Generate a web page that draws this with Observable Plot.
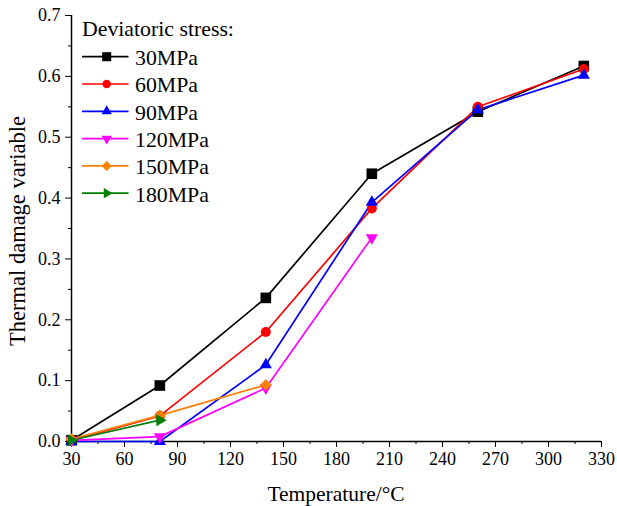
<!DOCTYPE html>
<html>
<head>
<meta charset="utf-8">
<script src="https://cdn.jsdelivr.net/npm/d3@7"></script>
<script src="https://cdn.jsdelivr.net/npm/@observablehq/plot@0.6"></script>
<style>
  html, body { margin: 0; padding: 0; background: #fff; }
  #chart { width: 617px; height: 506px; }
</style>
</head>
<body>
<div id="chart"></div>
<script>
// ---- data ----
const temperatures = [30, 80, 140, 200, 260, 320];
const seriesNames = ["30MPa", "60MPa", "90MPa", "120MPa", "150MPa", "180MPa"];
const seriesColors = ["#000000", "#ff0000", "#0000ff", "#ff00ff", "#ff8000", "#008000"];
const s30 = [0.002, 0.092, 0.236, 0.440, 0.542, 0.617];
const s60 = [0.002, 0.042, 0.180, 0.383, 0.550, 0.612];
const s90 = [0.000, 0.000, 0.126, 0.393, 0.545, 0.602];
const s120 = [0.002, 0.008, 0.088, 0.335];
const s150 = [0.004, 0.043, 0.093];
const s180 = [0.002, 0.035];
const seriesValues = [s30, s60, s90, s120, s150, s180];
const xTicks = [30, 60, 90, 120, 150, 180, 210, 240, 270, 300, 330];
const xMinor = [45, 75, 105, 135, 165, 195, 225, 255, 285, 315];
const yTicks = [0, 0.1, 0.2, 0.3, 0.4, 0.5, 0.6, 0.7];
const yMinor = [0.05, 0.15, 0.25, 0.35, 0.45, 0.55, 0.65];
const legendTitle = "Deviatoric stress:";
const xLabel = "Temperature/°C";
const yLabel = "Thermal damage variable";

// marker styles
const markerSymbols = ["square", "circle", "triangle", "triangle", "square", "triangle"];
const markerRotate = [0, 0, 0, 180, 45, 90];
const markerR = [6.0, 5.0, 4.5, 4.5, 4.7, 4.5];

const rows = [];
seriesValues.forEach((vals, i) => {
  vals.forEach((v, j) => rows.push({t: temperatures[j], v, s: seriesNames[i], i}));
});

const font = "Liberation Serif, Times New Roman, serif";

const marks = [
  Plot.axisX({ticks: xTicks, tickSize: 6, tickPadding: 5, tickFormat: d => String(d), label: null, fontSize: 18}),
  Plot.axisX({ticks: xMinor, tickSize: 3, tickFormat: () => "", label: null}),
  Plot.axisY({ticks: yTicks, tickSize: 6, tickPadding: 5, tickFormat: d3.format(".1f"), label: null, fontSize: 18}),
  Plot.axisY({ticks: yMinor, tickSize: 3, tickFormat: () => "", label: null}),
  Plot.ruleY([0], {stroke: "#000", strokeWidth: 1.5}),
  Plot.ruleX([30], {stroke: "#000", strokeWidth: 1.5}),
  Plot.line(rows, {x: "t", y: "v", z: "s", stroke: "s", strokeWidth: 1.7})
];
seriesNames.forEach((name, i) => {
  marks.push(Plot.dot(rows.filter(d => d.i === i), {
    x: "t", y: "v", fill: "s", stroke: "none",
    symbol: markerSymbols[i], rotate: markerRotate[i], r: markerR[i]
  }));
});

const plot = Plot.plot({
  width: 617,
  height: 506,
  marginLeft: 71,
  marginRight: 16,
  marginTop: 15,
  marginBottom: 65,
  style: {fontFamily: font, fontSize: "18px", color: "#000", background: "#fff"},
  x: {domain: [30, 330], axis: null},
  y: {domain: [0, 0.7], axis: null},
  color: {domain: seriesNames, range: seriesColors},
  marks
});

// axis titles and legend (real text, positioned in the svg)
const svg = d3.select(plot);
svg.append("text")
  .attr("x", 336).attr("y", 500.5)
  .attr("text-anchor", "middle")
  .style("font-family", font).style("font-size", "21.5px")
  .text(xLabel);
svg.append("text")
  .attr("transform", `translate(25, 231) rotate(-90)`)
  .attr("text-anchor", "middle")
  .style("font-family", font).style("font-size", "22.5px")
  .text(yLabel);

const lg = svg.append("g").style("font-family", font).style("font-size", "21.8px")
  .attr("text-anchor", "start");
lg.append("text").attr("x", 82).attr("y", 36).attr("text-anchor", "start").text(legendTitle);
const symMap = {square: d3.symbolSquare, circle: d3.symbolCircle, triangle: d3.symbolTriangle};
seriesNames.forEach((name, i) => {
  const y = 56.7 + i * 27.3;
  const g = lg.append("g");
  g.append("line").attr("x1", 82).attr("x2", 128.5).attr("y1", y).attr("y2", y)
    .attr("stroke", seriesColors[i]).attr("stroke-width", 1.7);
  const rr = markerR[i] * 0.85;
  g.append("path")
    .attr("d", d3.symbol(symMap[markerSymbols[i]], Math.PI * rr * rr)())
    .attr("transform", `translate(106.7, ${y}) rotate(${markerRotate[i]})`)
    .attr("fill", seriesColors[i]);
  g.append("text").attr("x", 135).attr("y", y + 8.3).attr("text-anchor", "start").text(name);
});

document.getElementById("chart").appendChild(plot);
</script>
</body>
</html>
